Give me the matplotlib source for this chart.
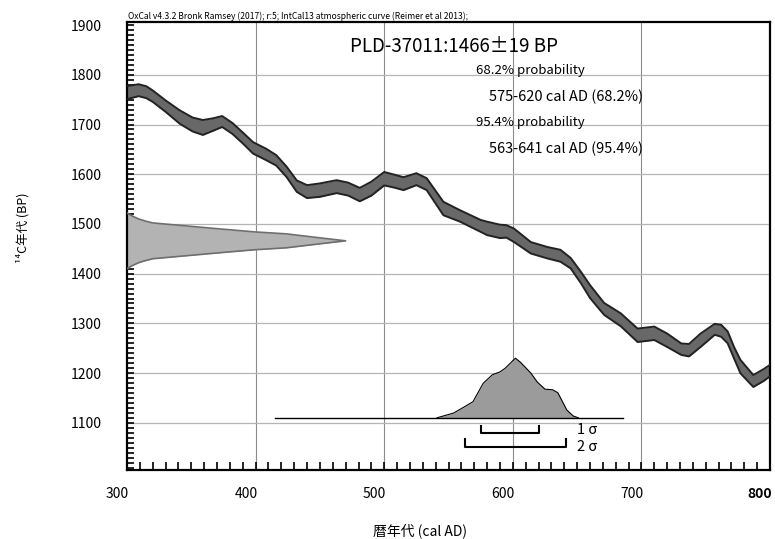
import matplotlib
matplotlib.use("Agg")
import matplotlib.pyplot as plt
import matplotlib.transforms as mtransforms
import numpy as np
from matplotlib.ticker import MultipleLocator

plt.rcParams['font.family'] = ['Noto Sans CJK JP', 'DejaVu Sans']

# Calibration curve (IntCal13): calendar year, 14C BP centre, half-width
cal_years = [300, 309, 315, 320, 330, 341, 351, 359, 367, 374, 382, 390, 398, 408, 416,
             424, 432, 440, 450, 463, 472, 481, 490, 500, 508, 515, 525, 533, 546, 559,
             575, 580, 590, 595, 601, 614, 627, 637, 645, 653, 660, 671, 684, 697, 710,
             720, 731, 737, 746, 757, 762, 767, 772, 777, 787, 795, 800]
cal_bp = [1764, 1769, 1765, 1757, 1737, 1715, 1700, 1694, 1700, 1706, 1692, 1673, 1653, 1640, 1628,
          1605, 1576, 1565, 1568, 1575, 1570, 1559, 1571, 1591, 1586, 1581, 1590, 1580, 1531, 1516,
          1496, 1491, 1485, 1485, 1477, 1452, 1442, 1436, 1421, 1392, 1364, 1329, 1307, 1276, 1280,
          1266, 1248, 1246, 1266, 1288, 1285, 1272, 1241, 1213, 1184, 1196, 1205]
cal_err = [13, 12, 12, 11.5, 11.5, 13.5, 14, 15, 12.5, 11, 11, 11, 11.5, 11.5, 10.5,
           10.5, 11.5, 13, 13.5, 13, 13, 13.5, 14, 13.5, 13, 13, 12, 12, 13.5, 11.5,
           12, 13.5, 13.5, 12.5, 13.5, 11.5, 11.5, 12, 10.5, 11.5, 13, 12, 13, 13.5, 13.5,
           13.5, 11.5, 12.5, 13.5, 11, 12, 12, 11.5, 13.5, 12, 12, 11.5]

# Radiocarbon date distribution on the y axis (BP, height in calendar years)
date_bp = [1522, 1516, 1510, 1506, 1502, 1496, 1490, 1484, 1480, 1472, 1466,
           1460, 1452, 1448, 1442, 1436, 1430, 1426, 1422, 1416, 1410]
date_height = [0, 4, 9, 14, 20, 46, 72, 99, 124, 150, 170,
               150, 124, 99, 72, 46, 20, 14, 9, 4, 0]

# Calibrated distribution (calendar year, relative probability)
post_years = [541, 554, 562, 569, 577, 584, 590, 594, 602, 606, 614, 619, 625, 631, 635, 642, 647, 651]
post_prob = [0.0, 0.08, 0.18, 0.27, 0.58, 0.72, 0.77, 0.83, 1.0, 0.93, 0.75, 0.60, 0.48, 0.47, 0.42, 0.13, 0.03, 0.0]
post_span = [415, 686]

sigma1 = [575, 620]
sigma2 = [563, 641]

x_ticks = [300, 400, 500, 600, 700, 800]
y_ticks = [1100, 1200, 1300, 1400, 1500, 1600, 1700, 1800, 1900]

fig = plt.figure(figsize=(7.75, 5.39), dpi=100)
ax = fig.add_axes([0.1639, 0.128, 0.8297, 0.831])
ax.set_xlim(300, 800)
ax.set_ylim(1005, 1906)

# grid
for x in x_ticks[1:-1]:
    ax.axvline(x, color='#8c8c8c', lw=0.8, zorder=0)
for y in y_ticks[:-1]:
    ax.axhline(y, color='#b4b4b4', lw=0.9, zorder=0)

# calibration curve band
cy = np.array(cal_years)
cb = np.array(cal_bp)
ce = np.array(cal_err)
ax.fill_between(cy, cb - ce, cb + ce, color='#686868', lw=0, zorder=2)
ax.plot(cy, cb + ce, color='#222222', lw=1.4, zorder=3, solid_joinstyle='round')
ax.plot(cy, cb - ce, color='#222222', lw=1.4, zorder=3, solid_joinstyle='round')

# radiocarbon date distribution
dh = 300 + np.array(date_height)
ax.fill_betweenx(date_bp, 300, dh, color='#b3b3b3', lw=0, zorder=2)
ax.plot(dh, date_bp, color='#6e6e6e', lw=1.2, zorder=3)

# calibrated distribution
base = 1110
scale = 120
pp = base + np.array(post_prob) * scale
ax.fill_between(post_years, base, pp, color='#9b9b9b', lw=0, zorder=2)
ax.plot(post_years, pp, color='black', lw=0.8, zorder=3)
ax.plot(post_span, [base, base], color='black', lw=1.0, zorder=3)

# sigma brackets
def bracket(r, top, bot):
    ax.plot([r[0], r[0], r[1], r[1]], [top, bot, bot, top], color='black', lw=1.5, zorder=3)
bracket(sigma1, 1094, 1080)
bracket(sigma2, 1068, 1052)
ax.text(650, 1086, '1 σ', fontsize=10.5, va='center', ha='left')
ax.text(650, 1052, '2 σ', fontsize=10.5, va='center', ha='left')

# texts
ax.text(554, 1856, 'PLD-37011:1466±19 BP', fontsize=13.5, ha='center', va='center')
ax.text(571, 1809, '68.2% probability', fontsize=9.5, ha='left', va='center')
ax.text(701, 1755, '575-620 cal AD (68.2%)', fontsize=10.5, ha='right', va='center')
ax.text(571, 1705, '95.4% probability', fontsize=9.5, ha='left', va='center')
ax.text(701, 1651, '563-641 cal AD (95.4%)', fontsize=10.5, ha='right', va='center')

fig.text(0.165, 0.970, 'OxCal v4.3.2 Bronk Ramsey (2017); r:5; IntCal13 atmospheric curve (Reimer et al 2013);',
         fontsize=6.15, ha='left', va='center')

# ticks
ax.set_xticks(x_ticks)
ax.set_xticklabels([str(t) for t in x_ticks])
ax.set_yticks(y_ticks)
ax.set_yticklabels([str(t) for t in y_ticks])
ax.xaxis.set_minor_locator(MultipleLocator(10))
ax.yaxis.set_minor_locator(MultipleLocator(10))
ax.tick_params(axis='x', which='both', direction='in', length=6, width=1.2, pad=12, labelsize=10,
               top=False, bottom=True)
ax.tick_params(axis='y', which='both', direction='in', length=5, width=1.2, pad=18, labelsize=10,
               left=True, right=False)
offset = mtransforms.ScaledTranslation(2 / 100, 0, fig.dpi_scale_trans)
for lab in ax.get_xticklabels():
    lab.set_ha('right')
    lab.set_transform(lab.get_transform() + offset)
ax.get_xticklabels()[-1].set_fontweight('bold')
for s in ax.spines.values():
    s.set_linewidth(1.6)
    s.set_color('black')

fig.text(0.0297, 0.577, '¹⁴C年代 (BP)', rotation=90, fontsize=9, ha='center', va='center')
fig.text(0.542, 0.015, '暦年代 (cal AD)', fontsize=10, ha='center', va='center')

fig.savefig('out.png', dpi=100)
